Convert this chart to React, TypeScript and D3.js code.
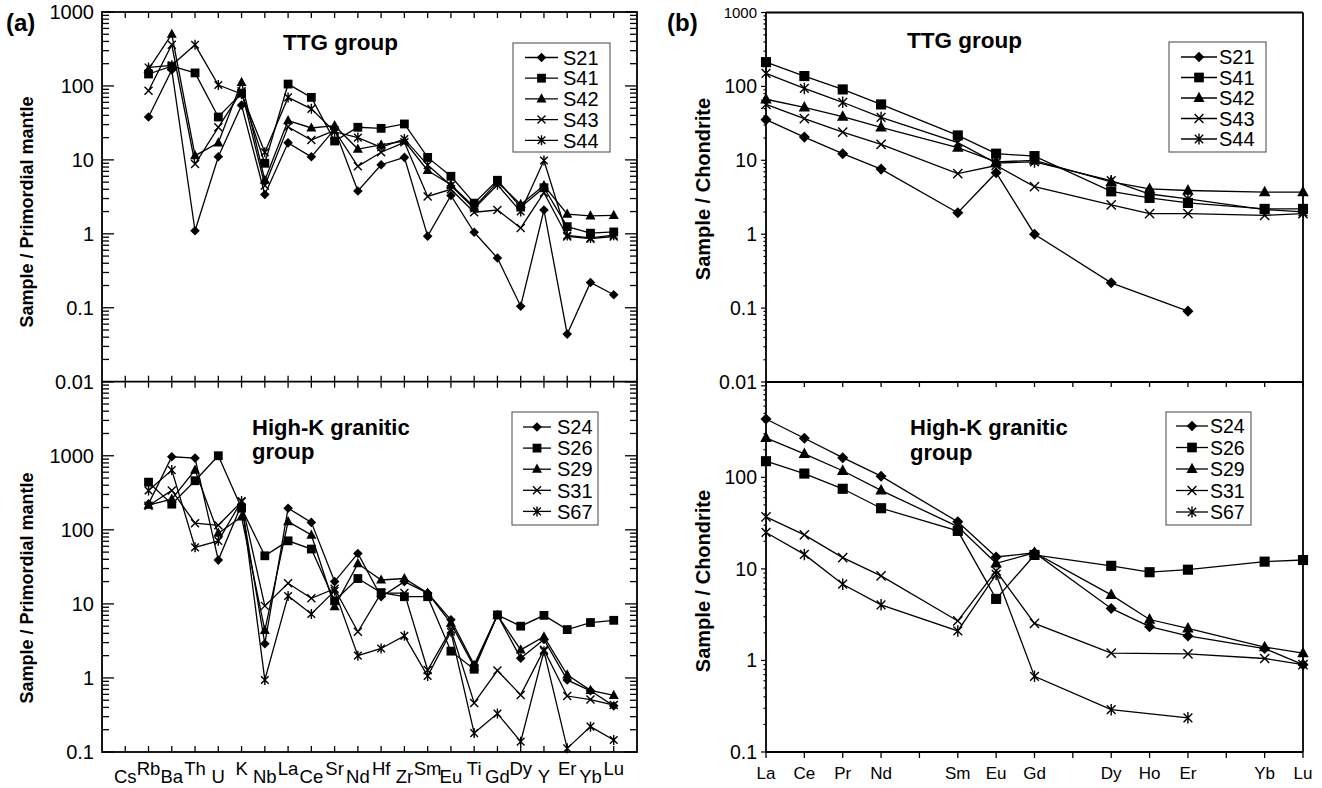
import React, { useEffect, useRef } from 'react';
import * as d3 from 'd3';

// ---------- categories ----------
const spiderElements = ['Cs','Rb','Ba','Th','U','K','Nb','La','Ce','Sr','Nd','Hf','Zr','Sm','Eu','Ti','Gd','Dy','Y','Er','Yb','Lu'];
const reeElements = ['La','Ce','Pr','Nd','Pm','Sm','Eu','Gd','Tb','Dy','Ho','Er','Tm','Yb','Lu'];
const reeLabelShown = ['La','Ce','Pr','Nd','Sm','Eu','Gd','Dy','Ho','Er','Yb','Lu'];

const ttgSamples = ['S21','S41','S42','S43','S44'];
const highKSamples = ['S24','S26','S29','S31','S67'];
const markerTypes = ['diamond','square','triangle','cross','asterisk'];

// ---------- tick labels / domains ----------
const spiderTopTicks = [0.01, 0.1, 1, 10, 100, 1000];
const spiderBottomTicks = [0.1, 1, 10, 100, 1000];
const reeTopTicks = [0.01, 0.1, 1, 10, 100, 1000];
const reeBottomTicks = [0.1, 1, 10, 100];
const spiderTopDomain = [0.01, 1000];
const spiderBottomDomain = [0.1, 10000];
const reeTopDomain = [0.01, 1000];
const reeBottomDomain = [0.1, 1100];

// ---------- (a) primordial-mantle normalised, TTG ----------
const spTtgS21 = [null, 38, 165, 1.1, 11, 55, 3.4, 17, 11, 26, 3.8, 8.6, 10.8, 0.93, 3.3, 1.05, 0.47, 0.105, 2.1, 0.044, 0.22, 0.15];
const spTtgS41 = [null, 145, 185, 150, 38, 80, 9, 106, 70, 18, 27.6, 26.7, 30.6, 10.8, 6.0, 2.6, 5.3, 2.3, 4.2, 1.25, 1.02, 1.06];
const spTtgS42 = [null, 168, 500, 11.4, 17, 112, 5.3, 34, 27, 29, 14, 16, 18, 7.2, 4.6, 2.3, 5.0, 2.5, 4.5, 1.85, 1.75, 1.78];
const spTtgS43 = [null, 86, 360, 8.8, 27.6, 85, 4.5, 28, 18.6, 25, 8.2, 12.7, 17.3, 3.2, 4.0, 1.96, 2.1, 1.2, 3.6, 0.92, 0.86, 0.92];
const spTtgS44 = [null, 178, 190, 360, 103, 78, 12.7, 70, 49, 24, 20, 14.8, 19.2, 8.5, 4.5, 2.2, 4.6, 2.0, 9.8, 0.95, 0.88, 0.96];

// ---------- (a) primordial-mantle normalised, High-K ----------
const spHkS24 = [null, 224, 970, 930, 39, 220, 2.9, 196, 126, 20, 48, 12.5, 20, 14, 6.1, 1.5, 7.1, 1.85, 3.3, 0.94, 0.67, 0.42];
const spHkS26 = [null, 440, 222, 460, 1000, 196, 44.6, 71, 55, 11, 22, 14.2, 12.5, 12.5, 2.3, 1.31, 7.1, 5.0, 7.0, 4.5, 5.6, 6.0];
const spHkS29 = [null, 215, 260, 640, 90, 150, 4.4, 129, 85, 9.2, 35, 21, 22, 14, 5.5, 1.4, 7.0, 2.4, 3.6, 1.1, 0.68, 0.58];
const spHkS31 = [null, 211, 340, 123, 115, 240, 9.4, 19, 11.9, 16, 4.2, 14, 14, 1.28, 4.5, 0.46, 1.26, 0.59, 2.4, 0.57, 0.51, 0.43];
const spHkS67 = [null, 340, 640, 58, 71, 245, 0.94, 12.8, 7.3, 15, 2.0, 2.5, 3.7, 1.06, 4.2, 0.18, 0.33, 0.138, 2.3, 0.112, 0.22, 0.145];

// ---------- (b) chondrite normalised REE, TTG ----------
const reeTtgS21 = [35.5, 20.6, 12.3, 7.6, null, 1.95, 6.8, 1.0, null, 0.22, null, 0.091, null, null, null];
const reeTtgS41 = [213, 138, 91, 57, null, 21.7, 12.3, 11.4, null, 3.8, 3.1, 2.65, null, 2.2, 2.2];
const reeTtgS42 = [67, 52, 39, 28, null, 14.8, 9.5, 10, null, 5.1, 4.1, 3.9, null, 3.7, 3.7];
const reeTtgS43 = [57, 36.6, 24, 16.4, null, 6.6, 8.5, 4.4, null, 2.5, 1.9, 1.9, null, 1.8, 1.9];
const reeTtgS44 = [150, 94, 61, 38, null, 17.3, 9.2, 9.5, null, 5.3, 3.5, 3.0, null, 2.15, 2.0];

// ---------- (b) chondrite normalised REE, High-K ----------
const reeHkS24 = [434, 267, 164, 103, null, 32.7, 13.5, 15, null, 3.7, 2.34, 1.85, null, 1.35, 0.9];
const reeHkS26 = [150, 110, 75, 46, null, 26, 4.7, 14.2, null, 10.8, 9.2, 9.8, null, 12, 12.5];
const reeHkS29 = [270, 180, 118, 72, null, 29, 11.5, 15, null, 5.2, 2.8, 2.24, null, 1.4, 1.2];
const reeHkS31 = [37, 23.5, 13.3, 8.4, null, 2.7, 9.5, 2.54, null, 1.2, null, 1.18, null, 1.05, 0.9];
const reeHkS67 = [25, 14.4, 6.8, 4.05, null, 2.1, 8.7, 0.67, null, 0.29, null, 0.236, null, null, null];

const FONT = "'Liberation Sans', Arial, Helvetica, sans-serif";

type Sel = d3.Selection<any, any, any, any>;

function drawMarker(g: Sel, x: number, y: number, type: string, s: number) {
  if (type === 'diamond') {
    const r = 4.8 * s;
    g.append('path').attr('d', `M${x},${y - r}L${x + r},${y}L${x},${y + r}L${x - r},${y}Z`).attr('fill', '#000');
  } else if (type === 'square') {
    const h = 4.4 * s;
    g.append('rect').attr('x', x - h).attr('y', y - h).attr('width', 2 * h).attr('height', 2 * h).attr('fill', '#000');
  } else if (type === 'triangle') {
    const w = 5 * s;
    g.append('path').attr('d', `M${x},${y - 5.6 * s}L${x + w},${y + 3.6 * s}L${x - w},${y + 3.6 * s}Z`).attr('fill', '#000');
  } else if (type === 'cross') {
    const h = 4 * s;
    g.append('path').attr('d', `M${x - h},${y - h}L${x + h},${y + h}M${x - h},${y + h}L${x + h},${y - h}`)
      .attr('stroke', '#000').attr('stroke-width', 1.4).attr('fill', 'none');
  } else {
    const h = 3.8 * s;
    g.append('path').attr('d', `M${x - h},${y - h}L${x + h},${y + h}M${x - h},${y + h}L${x + h},${y - h}M${x},${y - 5 * s}L${x},${y + 5 * s}`)
      .attr('stroke', '#000').attr('stroke-width', 1.4).attr('fill', 'none');
  }
}

function drawSeries(g: Sel, xs: any, ys: any, values: (number | null)[], type: string, s: number) {
  const pts: [number, number][] = [];
  values.forEach((v, i) => { if (v != null) pts.push([xs(i), ys(v)]); });
  g.append('path').attr('d', d3.line()(pts) as string).attr('fill', 'none').attr('stroke', '#000').attr('stroke-width', 1.3);
  pts.forEach(p => drawMarker(g, p[0], p[1], type, s));
}

function logTicks(domain: number[]) {
  const out: { v: number; major: boolean }[] = [];
  const e0 = Math.floor(Math.log10(domain[0]));
  const e1 = Math.ceil(Math.log10(domain[1]));
  for (let e = e0; e <= e1; e++) {
    for (let m = 1; m <= 9; m++) {
      const v = +(m * Math.pow(10, e)).toPrecision(6);
      if (v >= domain[0] * 0.999 && v <= domain[1] * 1.001) out.push({ v, major: m === 1 });
    }
  }
  return out;
}

function drawLegend(g: Sel, box: { x0: number; x1: number; y0: number; y1: number }, first: number, step: number,
  lx0: number, lx1: number, tx: number, names: string[], s: number, fs: number) {
  g.append('rect').attr('x', box.x0).attr('y', box.y0).attr('width', box.x1 - box.x0).attr('height', box.y1 - box.y0)
    .attr('fill', '#fff').attr('stroke', '#555').attr('stroke-width', 1.1);
  names.forEach((n, i) => {
    const y = first + i * step;
    g.append('line').attr('x1', lx0).attr('x2', lx1).attr('y1', y).attr('y2', y).attr('stroke', '#000').attr('stroke-width', 1.3);
    drawMarker(g, (lx0 + lx1) / 2, y, markerTypes[i], s);
    g.append('text').attr('x', tx).attr('y', y).attr('dy', '0.36em').attr('font-size', fs).attr('font-family', FONT).text(n);
  });
}

export default function App() {
  const ref = useRef<SVGSVGElement>(null);
  useEffect(() => {
    const svg = d3.select(ref.current);
    svg.selectAll('*').remove();
    const g = svg.append('g');

    // ================= Panel (a) =================
    const A = { left: 102, right: 637, top: 12, mid: 381.7, bottom: 752 };
    const xA = d3.scaleLinear().domain([-1, spiderElements.length]).range([A.left, A.right]);
    const yAT = d3.scaleLog().domain(spiderTopDomain).range([A.mid, A.top]);
    const yAB = d3.scaleLog().domain(spiderBottomDomain).range([A.bottom, A.mid]);

    const yTickA = (ys: any, dom: number[]) => {
      logTicks(dom).forEach(t => {
        const y = ys(t.v);
        const len = t.major ? 12 : 7;
        g.append('line').attr('x1', A.left).attr('x2', A.left + len).attr('y1', y).attr('y2', y).attr('stroke', '#000').attr('stroke-width', 1.3);
        g.append('line').attr('x1', A.right).attr('x2', A.right - len).attr('y1', y).attr('y2', y).attr('stroke', '#000').attr('stroke-width', 1.3);
      });
    };
    yTickA(yAT, spiderTopDomain);
    yTickA(yAB, spiderBottomDomain);

    spiderTopTicks.forEach(v => {
      g.append('text').attr('x', A.left - 8).attr('y', yAT(v)).attr('dy', '0.36em').attr('text-anchor', 'end')
        .attr('font-size', 20).attr('font-family', FONT).text(String(v));
    });
    spiderBottomTicks.forEach(v => {
      g.append('text').attr('x', A.left - 8).attr('y', yAB(v)).attr('dy', '0.36em').attr('text-anchor', 'end')
        .attr('font-size', 20).attr('font-family', FONT).text(String(v));
    });

    spiderElements.forEach((el, i) => {
      const x = xA(i);
      const tk = (y1: number, y2: number) => g.append('line').attr('x1', x).attr('x2', x).attr('y1', y1).attr('y2', y2).attr('stroke', '#000').attr('stroke-width', 1.3);
      tk(A.top, A.top + 6);
      tk(A.mid - 6, A.mid + 6);
      tk(A.bottom, A.bottom - 6);
      g.append('text').attr('x', x).attr('y', i % 2 === 0 ? 783 : 775).attr('text-anchor', 'middle')
        .attr('font-size', 18.5).attr('font-family', FONT).text(el);
    });

    g.append('rect').attr('x', A.left).attr('y', A.top).attr('width', A.right - A.left).attr('height', A.bottom - A.top)
      .attr('fill', 'none').attr('stroke', '#000').attr('stroke-width', 1.8);
    g.append('line').attr('x1', A.left).attr('x2', A.right).attr('y1', A.mid).attr('y2', A.mid).attr('stroke', '#000').attr('stroke-width', 1.8);

    const ttgSpider = [spTtgS21, spTtgS41, spTtgS42, spTtgS43, spTtgS44];
    const hkSpider = [spHkS24, spHkS26, spHkS29, spHkS31, spHkS67];
    ttgSpider.forEach((s, i) => drawSeries(g, xA, yAT, s, markerTypes[i], 1));
    hkSpider.forEach((s, i) => drawSeries(g, xA, yAB, s, markerTypes[i], 1));

    g.append('text').attr('x', 6).attr('y', 31).attr('font-size', 24).attr('font-weight', 'bold').attr('font-family', FONT).text('(a)');
    g.append('text').attr('x', 283).attr('y', 50).attr('font-size', 22.5).attr('font-weight', 'bold').attr('font-family', FONT).text('TTG group');
    g.append('text').attr('x', 252).attr('y', 435).attr('font-size', 22).attr('font-weight', 'bold').attr('font-family', FONT).text('High-K granitic');
    g.append('text').attr('x', 252).attr('y', 459).attr('font-size', 22).attr('font-weight', 'bold').attr('font-family', FONT).text('group');
    [212, 588].forEach(cy => {
      g.append('text').attr('transform', `translate(33,${cy}) rotate(-90)`).attr('text-anchor', 'middle')
        .attr('font-size', 18).attr('font-weight', 'bold').attr('font-family', FONT).text('Sample / Primordial mantle');
    });

    drawLegend(g, { x0: 513, x1: 610, y0: 43, y1: 152 }, 57.5, 20.7, 525, 558, 563, ttgSamples, 1, 20);
    drawLegend(g, { x0: 512, x1: 598, y0: 412, y1: 525 }, 427, 21.1, 523, 551, 557, highKSamples, 1, 20);

    // ================= Panel (b) =================
    const B = { left: 766, right: 1303, top: 12.5, mid: 382, bottom: 752 };
    const xB = d3.scaleLinear().domain([0, reeElements.length - 1]).range([B.left, B.right]);
    const yBT = d3.scaleLog().domain(reeTopDomain).range([B.mid, B.top]);
    const yBB = d3.scaleLog().domain(reeBottomDomain).range([B.bottom, B.mid]);

    const yTickB = (ys: any, dom: number[]) => {
      logTicks(dom).forEach(t => {
        if (t.v > 1000) return;
        const y = ys(t.v);
        g.append('line').attr('x1', B.left).attr('x2', B.left - (t.major ? 5 : 2.5)).attr('y1', y).attr('y2', y).attr('stroke', '#000').attr('stroke-width', 1.2);
      });
    };
    yTickB(yBT, reeTopDomain);
    yTickB(yBB, reeBottomDomain);

    reeTopTicks.forEach(v => {
      g.append('text').attr('x', B.left - 9).attr('y', yBT(v)).attr('dy', '0.36em').attr('text-anchor', 'end')
        .attr('font-size', v === 1000 ? 15 : 19.5).attr('font-family', FONT).text(String(v));
    });
    reeBottomTicks.forEach(v => {
      g.append('text').attr('x', B.left - 9).attr('y', yBB(v)).attr('dy', '0.36em').attr('text-anchor', 'end')
        .attr('font-size', 19.5).attr('font-family', FONT).text(String(v));
    });

    reeElements.forEach((el, i) => {
      const x = xB(i);
      g.append('line').attr('x1', x).attr('x2', x).attr('y1', B.mid).attr('y2', B.mid + 5).attr('stroke', '#000').attr('stroke-width', 1.3);
      g.append('line').attr('x1', x).attr('x2', x).attr('y1', B.bottom).attr('y2', B.bottom + 6).attr('stroke', '#000').attr('stroke-width', 1.3);
      if (reeLabelShown.includes(el)) {
        g.append('text').attr('x', x).attr('y', 779).attr('text-anchor', 'middle')
          .attr('font-size', 17).attr('font-family', FONT).text(el);
      }
    });

    const ln = (x1: number, y1: number, x2: number, y2: number) =>
      g.append('line').attr('x1', x1).attr('x2', x2).attr('y1', y1).attr('y2', y2).attr('stroke', '#000').attr('stroke-width', 1.8);
    ln(B.left, B.top, B.left, B.bottom);
    ln(B.left, B.top, B.right, B.top);
    ln(B.right, B.top, B.right, B.bottom);
    ln(B.left, B.mid, B.right, B.mid);
    ln(B.left, B.bottom, B.right, B.bottom);

    const ttgRee = [reeTtgS21, reeTtgS41, reeTtgS42, reeTtgS43, reeTtgS44];
    const hkRee = [reeHkS24, reeHkS26, reeHkS29, reeHkS31, reeHkS67];
    ttgRee.forEach((s, i) => drawSeries(g, xB, yBT, s, markerTypes[i], 1.15));
    hkRee.forEach((s, i) => drawSeries(g, xB, yBB, s, markerTypes[i], 1.15));

    g.append('text').attr('x', 667).attr('y', 31).attr('font-size', 24).attr('font-weight', 'bold').attr('font-family', FONT).text('(b)');
    g.append('text').attr('x', 907).attr('y', 48).attr('font-size', 22.5).attr('font-weight', 'bold').attr('font-family', FONT).text('TTG group');
    g.append('text').attr('x', 910).attr('y', 435).attr('font-size', 22).attr('font-weight', 'bold').attr('font-family', FONT).text('High-K granitic');
    g.append('text').attr('x', 910).attr('y', 460).attr('font-size', 22).attr('font-weight', 'bold').attr('font-family', FONT).text('group');
    [189, 581].forEach(cy => {
      g.append('text').attr('transform', `translate(710,${cy}) rotate(-90)`).attr('text-anchor', 'middle')
        .attr('font-size', 20).attr('font-weight', 'bold').attr('font-family', FONT).text('Sample / Chondrite');
    });

    drawLegend(g, { x0: 1169, x1: 1266, y0: 42, y1: 152 }, 57, 20.5, 1181, 1217, 1219, ttgSamples, 1.1, 20);
    drawLegend(g, { x0: 1166, x1: 1251, y0: 412, y1: 525 }, 426, 21.5, 1176, 1208, 1210, highKSamples, 1.1, 19.5);
  }, []);

  return <svg ref={ref} width={1322} height={788} style={{ position: 'absolute', left: 0, top: 0, background: '#fff' }} />;
}
